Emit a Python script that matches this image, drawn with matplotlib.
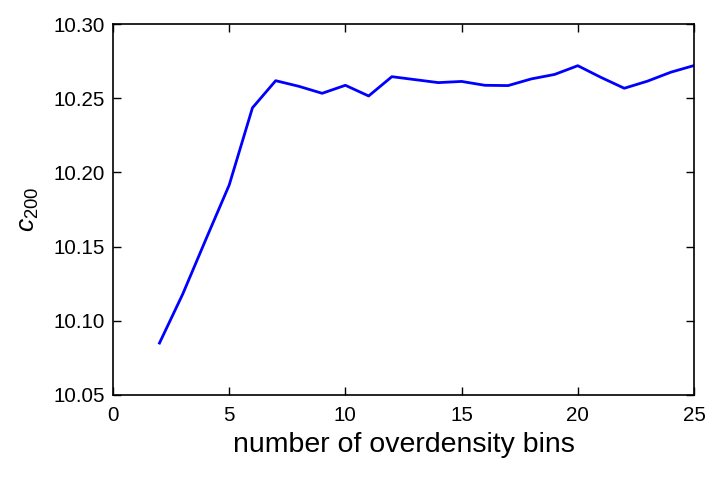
import matplotlib
matplotlib.use("Agg")
import matplotlib.pyplot as plt

plt.rcParams['font.family'] = ['Liberation Sans', 'DejaVu Sans']
plt.rcParams['mathtext.fontset'] = 'custom'
plt.rcParams['mathtext.it'] = 'Liberation Sans:italic'
plt.rcParams['mathtext.rm'] = 'Liberation Sans'

n_bins = [2, 3, 4, 5, 6, 7, 8, 9, 10, 11, 12, 13, 14, 15, 16, 17, 18, 19, 20, 21, 22, 23, 24, 25]
c200 = [10.085, 10.118, 10.155, 10.1915, 10.2435, 10.2618, 10.258, 10.2533, 10.2587, 10.2515,
        10.2645, 10.2625, 10.2605, 10.2613, 10.2587, 10.2585, 10.263, 10.266, 10.2719,
        10.264, 10.2567, 10.2615, 10.2675, 10.272]

xticks = [0, 5, 10, 15, 20, 25]
yticks = [10.05, 10.10, 10.15, 10.20, 10.25, 10.30]

fig = plt.figure(figsize=(7.21, 4.78), dpi=100)
ax = fig.add_axes([113/721, 1-395/478, 581/721, 371/478])
ax.plot(n_bins, c200, color='#0000ff', lw=2)
ax.set_xlim(0, 25)
ax.set_ylim(10.05, 10.30)
ax.set_xticks(xticks)
ax.set_yticks(yticks)
ax.set_yticklabels([f"{v:.2f}" for v in yticks])
ax.tick_params(direction='in', top=True, right=True, length=6, width=1, labelsize=14.8)
ax.tick_params(axis='y', pad=6)
ax.tick_params(axis='x', pad=8)
for s in ax.spines.values():
    s.set_linewidth(1.2)
ax.set_xlabel('number of overdensity bins', fontsize=20.5)
ax.set_ylabel(r'$c_{200}$', fontsize=19)
ax.xaxis.set_label_coords(0.5, -0.100)
ax.yaxis.set_label_coords(-0.124, 0.5)
fig.savefig('out.png', dpi=100)
